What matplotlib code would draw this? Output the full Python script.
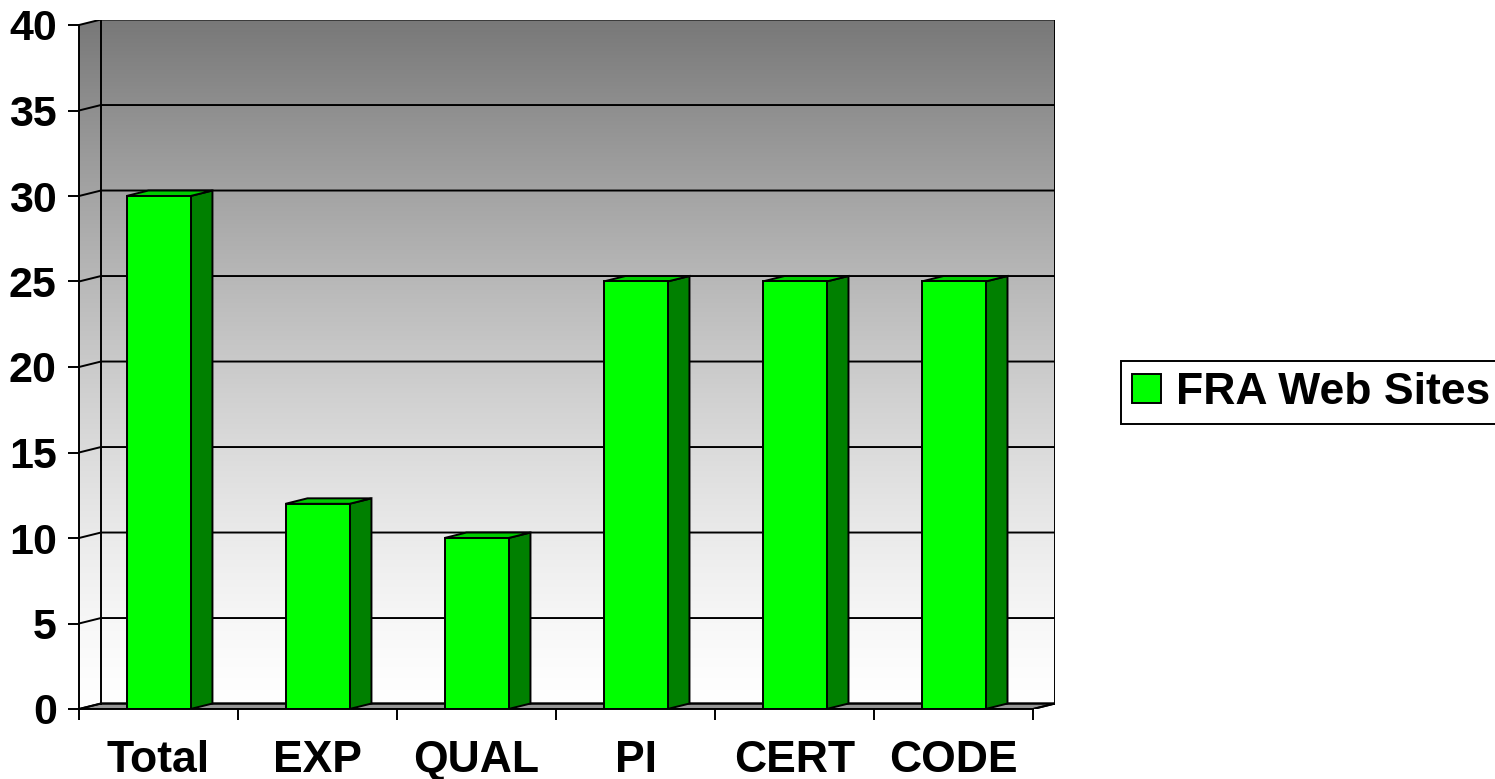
import numpy as np
import matplotlib
matplotlib.use('Agg')
import matplotlib.pyplot as plt
from matplotlib.patches import Polygon, Rectangle, Patch

categories = ['Total', 'EXP', 'QUAL', 'PI', 'CERT', 'CODE']
values = [30, 12, 10, 25, 25, 25]
series_name = 'FRA Web Sites'
y_ticks = [0, 5, 10, 15, 20, 25, 30, 35, 40]

plt.rcParams['font.family'] = ['Liberation Sans', 'DejaVu Sans']

W, H = 1495, 779
fig = plt.figure(figsize=(W / 100, H / 100), dpi=100)

n = len(categories)
DX = 0.138   # depth offset in category units
DY = 0.32    # depth offset in value units
YMAX = 40
x_lo, x_hi = -0.5, n - 0.5
LW = 1.4

left_px, right_px, bottom_px = 79, 1055, 709
px_per_unit = 684 / 40
top_px = bottom_px - (YMAX + DY) * px_per_unit
ax = fig.add_axes([left_px / W, 1 - bottom_px / H,
                   (right_px - left_px) / W, (bottom_px - top_px) / H])
ax.set_xlim(x_lo, x_hi + DX)
ax.set_ylim(0, YMAX + DY)
ax.patch.set_visible(False)

# gradient walls
t = np.linspace(0, 1, 512)
g = 1 - 0.53 * t ** 1.35
img = np.dstack([g, g, g]).reshape(512, 1, 3)
im = ax.imshow(img, extent=[x_lo, x_hi + DX, 0, YMAX + DY], origin='lower',
               aspect='auto', zorder=0, interpolation='bilinear')
wall = Polygon([(x_lo, 0), (x_lo + DX, DY), (x_hi + DX, DY), (x_hi + DX, YMAX + DY),
                (x_lo + DX, YMAX + DY), (x_lo, YMAX)], closed=True,
               transform=ax.transData, facecolor='none', edgecolor='none')
ax.add_patch(wall)
im.set_clip_path(wall)

# floor
ax.add_patch(Polygon([(x_lo, 0), (x_hi, 0), (x_hi + DX, DY), (x_lo + DX, DY)],
                     closed=True, facecolor='#969696', edgecolor='black',
                     linewidth=LW, zorder=1))

# gridlines on left wall and back wall
for k in y_ticks:
    ax.plot([x_lo, x_lo + DX, x_hi + DX], [k, k + DY, k + DY],
            color='black', linewidth=LW, zorder=1.5, solid_capstyle='butt')
ax.plot([x_lo + DX, x_lo + DX], [DY, YMAX + DY], color='black', linewidth=LW, zorder=1.5)
ax.plot([x_hi + DX, x_hi + DX], [DY, YMAX + DY], color='black', linewidth=LW, zorder=1.5)
ax.plot([x_hi, x_hi + DX], [0, DY], color='black', linewidth=LW, zorder=1.5)

# bars
bw = 0.4025
for i, v in enumerate(values):
    x0, x1 = i - bw / 2, i + bw / 2
    ax.add_patch(Polygon([(x1, 0), (x1 + DX, DY), (x1 + DX, v + DY), (x1, v)],
                         closed=True, facecolor='#008000', edgecolor='black',
                         linewidth=LW, zorder=3))
    ax.add_patch(Polygon([(x0, v), (x0 + DX, v + DY), (x1 + DX, v + DY), (x1, v)],
                         closed=True, facecolor='#00cc00', edgecolor='black',
                         linewidth=LW, zorder=3))
    ax.add_patch(Rectangle((x0, 0), bw, v, facecolor='#00ff00', edgecolor='black',
                           linewidth=LW, zorder=4))

# spines & ticks
for s in ['top', 'right']:
    ax.spines[s].set_visible(False)
ax.spines['left'].set_bounds(0, YMAX)
ax.spines['bottom'].set_bounds(x_lo, x_hi)
for s in ['left', 'bottom']:
    ax.spines[s].set_linewidth(LW)
    ax.spines[s].set_zorder(5)

ax.set_yticks(y_ticks)
ax.set_yticklabels([str(v) for v in y_ticks], fontsize=31, fontweight='bold')
ax.tick_params(axis='y', length=8, width=LW, direction='out', pad=8)

ax.set_xticks(np.arange(n + 1) - 0.5)
ax.set_xticklabels([])
ax.set_xticks(np.arange(n), minor=True)
ax.set_xticklabels(categories, minor=True, fontsize=32, fontweight='bold')
ax.tick_params(axis='x', which='major', length=8, width=LW, direction='out')
ax.tick_params(axis='x', which='minor', length=0, pad=22)

# legend
handle = Patch(facecolor='#00ff00', edgecolor='black', linewidth=LW)
leg = fig.legend(handles=[handle], labels=[series_name], loc='center left',
                 bbox_to_anchor=(1121 / W, 1 - 392.5 / H),
                 prop={'weight': 'bold', 'size': 32}, frameon=True, fancybox=False,
                 edgecolor='black', framealpha=1, borderaxespad=0,
                 handlelength=0.64, handleheight=0.64, handletextpad=0.34,
                 borderpad=0.25)
leg.get_frame().set_linewidth(1.4)

fig.savefig('out.png', dpi=100)
